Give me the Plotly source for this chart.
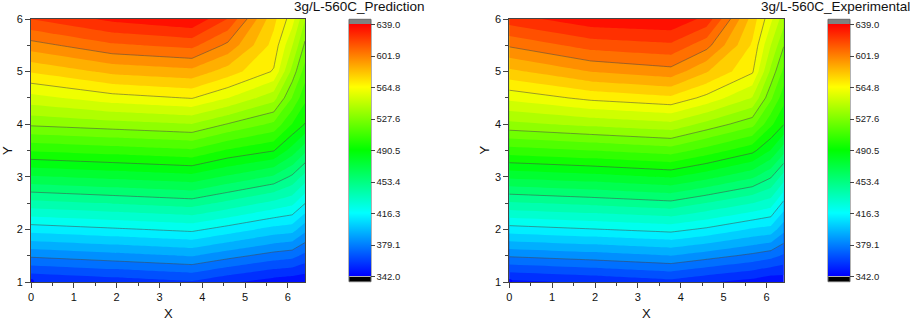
import plotly.graph_objects as go

# ---------------- data ----------------
y_nodes = [1.0, 1.5, 2.0, 2.5, 3.0, 3.5, 4.0, 4.5, 5.0, 5.5, 6.0]

x_pred = [0.0, 1.9, 3.76, 4.6, 5.67, 6.1, 6.4]
z_pred = [
    [351.0, 355.3, 359.6, 353.1, 346.6, 345.0, 344.0],
    [380.9, 385.0, 389.1, 382.6, 375.1, 373.0, 367.1],
    [410.8, 414.7, 418.6, 412.1, 403.6, 401.7, 391.3],
    [440.8, 444.7, 448.6, 441.6, 432.2, 428.0, 416.7],
    [470.8, 474.5, 478.1, 470.3, 461.2, 451.5, 440.5],
    [500.5, 504.0, 507.6, 498.5, 491.0, 477.1, 464.9],
    [529.4, 533.1, 536.7, 527.0, 516.4, 499.4, 490.0],
    [552.0, 560.8, 565.3, 555.6, 540.6, 518.0, 502.1],
    [574.9, 585.8, 589.7, 578.8, 563.8, 533.8, 513.9],
    [597.8, 609.5, 613.9, 599.4, 570.6, 546.8, 525.7],
    [620.7, 632.0, 638.0, 620.0, 576.6, 559.7, 537.5],
]

x_exp = [0.0, 1.9, 3.77, 4.6, 5.67, 6.1, 6.4]
z_exp = [
    [348.9, 352.7, 357.4, 352.5, 347.8, 344.0, 345.0],
    [380.4, 384.1, 388.4, 383.4, 376.8, 373.3, 368.4],
    [411.8, 415.6, 419.4, 414.4, 405.8, 403.4, 391.3],
    [442.9, 446.6, 450.8, 443.9, 435.1, 430.2, 413.9],
    [473.8, 477.5, 482.3, 475.2, 464.4, 454.4, 440.1],
    [505.0, 509.1, 513.8, 505.3, 493.3, 480.6, 466.1],
    [534.3, 539.4, 543.8, 533.8, 521.4, 501.9, 491.0],
    [558.1, 567.3, 572.1, 561.9, 545.7, 520.3, 503.4],
    [580.9, 592.8, 598.2, 584.0, 566.0, 534.6, 515.9],
    [603.2, 615.2, 618.6, 605.3, 572.6, 546.2, 528.3],
    [625.6, 636.0, 638.0, 626.7, 579.3, 557.8, 540.8],
]

z_min = 342.0
z_max = 639.0
n_major = 8
n_minor = 4
cbar_tickvals = [342.0, 379.125, 416.25, 453.375, 490.5, 527.625, 564.75, 601.875, 639.0]
cbar_ticktext = ["342.0", "379.1", "416.3", "453.4", "490.5", "527.6", "564.8", "601.9", "639.0"]

titles = ["3g/L-560C_Prediction", "3g/L-560C_Experimental"]

# ---------------- styling ----------------
W, H = 913, 321
FONT = "Liberation Sans, Arial, sans-serif"
scale = [[0.0, "rgb(0,0,255)"], [0.25, "rgb(0,255,255)"], [0.5, "rgb(0,255,0)"],
         [0.75, "rgb(255,255,0)"], [1.0, "rgb(255,0,0)"]]
major = (z_max - z_min) / n_major
minor = major / n_minor


def fx(p):
    return p / W


def fy(p):
    return (H - p) / H


panels = [
    dict(x=x_pred, z=z_pred, dom=(31.0, 305.0), cb=349.0, title_r=426.0, ytitle=7.5),
    dict(x=x_exp, z=z_exp, dom=(509.3, 783.7), cb=828.0, title_r=911.0, ytitle=484.0),
]

fig = go.Figure()
shapes = []
annotations = []
top_px, bot_px = 19.0, 282.0
cb_top, cb_bot = 24.3, 276.7

for i, p in enumerate(panels):
    xa = "x" if i == 0 else "x2"
    ya = "y" if i == 0 else "y2"
    fig.add_trace(go.Contour(
        x=p["x"], y=y_nodes, z=p["z"], xaxis=xa, yaxis=ya,
        colorscale=scale, zmin=z_min, zmax=z_max, zauto=False,
        contours=dict(start=z_min, end=z_max, size=minor, coloring="fill"),
        line=dict(width=0, smoothing=0), showscale=False, hoverinfo="skip",
    ))
    fig.add_trace(go.Contour(
        x=p["x"], y=y_nodes, z=p["z"], xaxis=xa, yaxis=ya,
        contours=dict(start=z_min + major, end=z_max - major, size=major, coloring="none"),
        line=dict(width=0.7, color="rgba(70,70,70,0.75)", smoothing=0),
        showscale=False, hoverinfo="skip",
    ))
    # colour bar
    fig.add_trace(go.Scatter(
        x=[0], y=[1], xaxis=xa, yaxis=ya, mode="markers", hoverinfo="skip", showlegend=False,
        marker=dict(size=0, line=dict(width=0), color=[z_min], cmin=z_min, cmax=z_max,
                    colorscale=scale, showscale=True,
                    colorbar=dict(x=fx(p["cb"]), xanchor="left", xpad=0, ypad=0,
                                  thickness=22, thicknessmode="pixels",
                                  len=cb_bot - cb_top, lenmode="pixels",
                                  y=fy((cb_top + cb_bot) / 2), yanchor="middle",
                                  outlinewidth=0, tickmode="array",
                                  tickvals=cbar_tickvals, ticktext=cbar_ticktext,
                                  ticks="outside", ticklen=4, tickwidth=1, tickcolor="#444",
                                  tickfont=dict(family=FONT, size=9.5, color="#222"))),
    ))
    x0, x1 = fx(p["cb"]), fx(p["cb"] + 22)
    shapes.append(dict(type="rect", xref="paper", yref="paper", x0=x0, x1=x1,
                       y0=fy(cb_bot + 5), y1=fy(cb_bot), fillcolor="black", line=dict(width=0)))
    shapes.append(dict(type="rect", xref="paper", yref="paper", x0=x0, x1=x1,
                       y0=fy(cb_top), y1=fy(cb_top - 5), fillcolor="rgb(128,128,128)", line=dict(width=0)))
    shapes.append(dict(type="rect", xref="paper", yref="paper", x0=x0, x1=x1,
                       y0=fy(cb_bot + 5), y1=fy(cb_top - 5), fillcolor="rgba(0,0,0,0)",
                       line=dict(width=1, color="#666")))
    # titles
    annotations.append(dict(text=titles[i], xref="paper", yref="paper", x=fx(p["title_r"]),
                            xanchor="right", y=fy(6), yanchor="middle", showarrow=False,
                            borderpad=0,
                            font=dict(family=FONT, size=13.5, color="#111")))
    cx = (p["dom"][0] + p["dom"][1]) / 2
    annotations.append(dict(text="X", xref="paper", yref="paper", x=fx(cx), xanchor="center",
                            y=fy(313), yanchor="middle", showarrow=False, borderpad=0,
                            font=dict(family=FONT, size=13, color="#111")))
    annotations.append(dict(text="Y", xref="paper", yref="paper", x=fx(p["ytitle"]), xanchor="center",
                            y=fy((top_px + bot_px) / 2), yanchor="middle", showarrow=False, textangle=-90,
                            borderpad=0,
                            font=dict(family=FONT, size=13, color="#111")))

axis_common = dict(showline=True, linecolor="#444", linewidth=1, mirror=True, ticks="outside",
                   ticklen=5, tickwidth=1, tickcolor="#444", showgrid=False, zeroline=False,
                   automargin=False,
                   tickfont=dict(family=FONT, size=11, color="#111"),
                   minor=dict(dtick=0.5, ticklen=3, ticks="outside", tickcolor="#444", showgrid=False))

fig.update_layout(
    template="none",
    width=W, height=H, autosize=False, margin=dict(l=0, r=0, t=0, b=0, autoexpand=False),
    paper_bgcolor="white", plot_bgcolor="white", showlegend=False,
    shapes=shapes, annotations=annotations,
    xaxis=dict(domain=[fx(31.0), fx(305.0)], range=[0, 6.4], dtick=1, tick0=0, anchor="y", **axis_common),
    yaxis=dict(domain=[fy(bot_px), fy(top_px)], range=[1, 6], dtick=1, tick0=1, anchor="x", **axis_common),
    xaxis2=dict(domain=[fx(509.3), fx(783.7)], range=[0, 6.4], dtick=1, tick0=0, anchor="y2", **axis_common),
    yaxis2=dict(domain=[fy(bot_px), fy(top_px)], range=[1, 6], dtick=1, tick0=1, anchor="x2", **axis_common),
)

fig.write_html("out.html", config={"displayModeBar": False},
               post_script="document.body.style.margin='0px';document.body.style.overflow='hidden';")
